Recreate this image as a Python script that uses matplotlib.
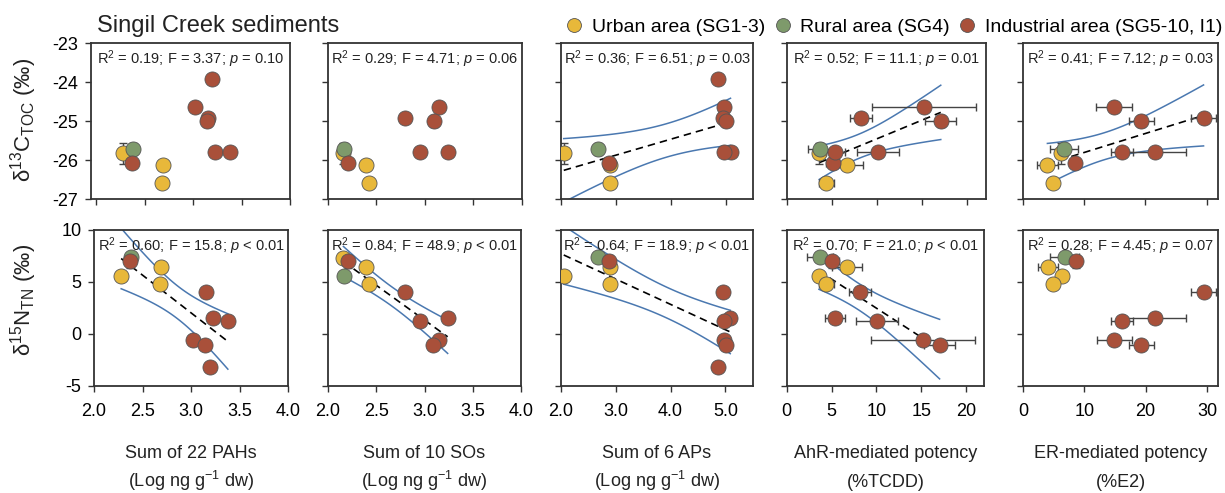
import numpy as np
import matplotlib.pyplot as plt
from matplotlib.lines import Line2D
from matplotlib.ticker import FormatStrFormatter


# %% fonts
plt.rcParams['font.family'] = ['Liberation Sans', 'DejaVu Sans']
plt.rcParams['mathtext.fontset'] = 'custom'
plt.rcParams['mathtext.rm'] = 'Liberation Sans'
plt.rcParams['mathtext.it'] = 'Liberation Sans:italic'
plt.rcParams['mathtext.default'] = 'regular'
plt.rcParams['axes.unicode_minus'] = False


# %% data (sites: SG1-3 urban, SG4 rural, 7 industrial)
site_group = ['urban', 'urban', 'urban', 'rural',
              'industrial', 'industrial', 'industrial', 'industrial',
              'industrial', 'industrial', 'industrial']

# --+ isotopes
d13c = [-25.83, -26.13, -26.59, -25.72, -26.08, -24.64, -24.93, -25.00,
        -23.92, -25.80, -25.80]
d13c_sd = [0.26, 0, 0, 0.15, 0, 0, 0, 0.15, 0, 0, 0]
d15n = [5.60, 6.45, 4.80, 7.37, 6.98, -0.60, 4.05, -1.08, -3.20, 1.55, 1.23]
d15n_sd = [0, 0, 0, 0.3, 0.6, 0, 0, 0, 0, 0, 0]
# --+ as drawn in the SO panel (urban/rural swapped)
d15n_so = [7.35, 6.45, 4.80, 5.58, 6.98, -0.60, 4.05, -1.08, -3.20, 1.55,
           1.23]

# --+ x variables
pahs = [2.28, 2.69, 2.68, 2.38, 2.37, 3.02, 3.15, 3.14, 3.20, 3.23, 3.38]
sos = [2.16, 2.39, 2.42, 2.17, 2.21, 3.15, 2.80, 3.09, np.nan, 3.24, 2.95]
aps = [2.05, 2.89, 2.90, 2.67, 2.88, 4.98, 4.95, 5.01, 4.87, 5.09, 4.97]
ahr = [3.60, 6.70, 4.40, 3.71, 5.08, 15.2, 8.20, 17.05, np.nan, 5.40, 10.09]
ahr_sd = [0.5, 1.7, 0.85, 1.4, 0.7, 5.8, 1.2, 1.7, np.nan, 1.1, 2.35]
er = [6.30, 4.05, 4.97, 6.77, 8.60, 14.9, 29.45, 19.3, np.nan, 21.5, 16.2]
er_sd = [0.5, 1.65, 0.6, 2.3, 0.6, 2.9, 2.05, 2.05, np.nan, 5.1, 1.8]

# --+ statistics shown in the panels
stats_top = ['R$^2$ = 0.19; F = 3.37; $\\mathit{p}$ = 0.10',
             'R$^2$ = 0.29; F = 4.71; $\\mathit{p}$ = 0.06',
             'R$^2$ = 0.36; F = 6.51; $\\mathit{p}$ = 0.03',
             'R$^2$ = 0.52; F = 11.1; $\\mathit{p}$ = 0.01',
             'R$^2$ = 0.41; F = 7.12; $\\mathit{p}$ = 0.03']
stats_bot = ['R$^2$ = 0.60; F = 15.8; $\\mathit{p}$ < 0.01',
             'R$^2$ = 0.84; F = 48.9; $\\mathit{p}$ < 0.01',
             'R$^2$ = 0.64; F = 18.9; $\\mathit{p}$ < 0.01',
             'R$^2$ = 0.70; F = 21.0; $\\mathit{p}$ < 0.01',
             'R$^2$ = 0.28; F = 4.45; $\\mathit{p}$ = 0.07']
fit_top = [False, False, True, True, True]
fit_bot = [True, True, True, True, False]

x_names = ['Sum of 22 PAHs', 'Sum of 10 SOs', 'Sum of 6 APs',
           'AhR-mediated potency', 'ER-mediated potency']
x_units = ['(Log ng g$^{-1}$ dw)', '(Log ng g$^{-1}$ dw)',
           '(Log ng g$^{-1}$ dw)', '(%TCDD)', '(%E2)']
legend_labels = ['Urban area (SG1-3)', 'Rural area (SG4)',
                 'Industrial area (SG5-10, I1)']


# %% styles and layout
colors = {'urban': '#E8B83A', 'rural': '#7E9A6B', 'industrial': '#A9503A'}
blue = '#4A78B0'
dark = '#333333'
t_crit = {8: 2.306, 9: 2.262}

W, H = 1225, 493
left_top = [90.7, 328, 561, 786.7, 1022.5]
right_top = [290, 521.7, 753, 985.5, 1218]
left_bot = [94, 328, 561, 786.7, 1023]
right_bot = [288, 521, 752.7, 984, 1218]

xcols = [pahs, sos, aps, ahr, er]
xerrs = [None, None, None, ahr_sd, er_sd]
xlims_top = [(1.945, 4.0), (2.0, 4.0), (2.0, 5.5), (0, 22), (0, 31.8)]
xlims_bot = [(2.0, 4.0), (2.0, 4.0), (2.0, 5.5), (0, 22), (0, 31.8)]
xticks = [np.arange(2.0, 4.01, 0.5), np.arange(2.0, 4.01, 0.5),
          [2, 3, 4, 5], [0, 5, 10, 15, 20], [0, 10, 20, 30]]
xfmt = ['%.1f', '%.1f', '%.1f', '%d', '%d']


def draw_panel(ax, x, y, xerr, yerr, fit):
    x = np.asarray(x, float)
    y = np.asarray(y, float)
    ok = ~np.isnan(x)
    # --+ regression and 95% confidence band
    if fit:
        xs, ys = x[ok], y[ok]
        n = len(xs)
        b, a = np.polyfit(xs, ys, 1)
        mx = xs.mean()
        sxx = ((xs - mx) ** 2).sum()
        s = np.sqrt(((ys - (a + b * xs)) ** 2).sum() / (n - 2))
        xx = np.linspace(xs.min(), xs.max(), 100)
        hw = t_crit[n - 2] * s * np.sqrt(1 / n + (xx - mx) ** 2 / sxx)
        ax.plot(xx, a + b * xx, color='k', ls=(0, (4.5, 3)), lw=1.2,
                zorder=2)
        ax.plot(xx, a + b * xx + hw, color=blue, lw=1.1, zorder=2)
        ax.plot(xx, a + b * xx - hw, color=blue, lw=1.1, zorder=2)
    # --+ error bars
    if xerr is not None:
        xerr = np.asarray(xerr, float)[ok]
    ax.errorbar(x[ok], y[ok], xerr=xerr, yerr=np.asarray(yerr)[ok],
                fmt='none', ecolor='#444444', elinewidth=1, capsize=3,
                capthick=1, zorder=2.5)
    # --+ points
    grp = np.asarray(site_group)
    for g in ['urban', 'rural', 'industrial']:
        m = ok & (grp == g)
        ax.scatter(x[m], y[m], s=118, color=colors[g], edgecolor='#555555',
                   linewidth=0.6, zorder=3)


def style_axes(ax):
    for sp in ax.spines.values():
        sp.set_color(dark)
        sp.set_linewidth(1.3)
    ax.tick_params(direction='out', length=4, width=1, color=dark,
                   labelsize=13, pad=5)


fig = plt.figure(figsize=(W / 100, H / 100), dpi=100)

for i in range(5):
    # --+ top row: d13C
    ax = fig.add_axes([left_top[i] / W, 1 - 199 / H,
                       (right_top[i] - left_top[i]) / W, 156 / H])
    draw_panel(ax, xcols[i], d13c, xerrs[i], d13c_sd, fit_top[i])
    ax.set_xlim(*xlims_top[i])
    ax.set_ylim(-27, -23)
    ax.set_xticks(xticks[i])
    ax.set_yticks([-27, -26, -25, -24, -23])
    ax.set_xticklabels([])
    if i > 0:
        ax.set_yticklabels([])
    style_axes(ax)
    ax.text(0.5, 0.965, stats_top[i], transform=ax.transAxes, ha='center',
            va='top', fontsize=10.5, color='#222222')

    # --+ bottom row: d15N
    ax = fig.add_axes([left_bot[i] / W, 1 - 386 / H,
                       (right_bot[i] - left_bot[i]) / W, 156 / H])
    yv = d15n_so if i == 1 else d15n
    draw_panel(ax, xcols[i], yv, xerrs[i], d15n_sd, fit_bot[i])
    ax.set_xlim(*xlims_bot[i])
    ax.set_ylim(-5, 10)
    ax.set_xticks(xticks[i])
    ax.xaxis.set_major_formatter(FormatStrFormatter(xfmt[i]))
    ax.set_yticks([-5, 0, 5, 10])
    if i > 0:
        ax.set_yticklabels([])
    style_axes(ax)
    ax.tick_params(axis='x', pad=8)
    ax.text(0.5, 0.965, stats_bot[i], transform=ax.transAxes, ha='center',
            va='top', fontsize=10.5, color='#222222')

    # --+ two-line axis title below the column
    xc = (left_bot[i] + right_bot[i]) / 2 / W
    fig.text(xc, 1 - 458 / H, x_names[i], ha='center', va='baseline',
             fontsize=13, color='#222222')
    fig.text(xc, 1 - 487 / H, x_units[i], ha='center', va='baseline',
             fontsize=13, color='#222222')

# --+ axis titles
fig.text(24 / W, 1 - 120 / H, 'δ$^{13}$C$_{TOC}$ (‰)', rotation=90,
         ha='center', va='center', fontsize=16, color='#222222')
fig.text(24 / W, 1 - 300 / H, 'δ$^{15}$N$_{TN}$ (‰)', rotation=90,
         ha='center', va='center', fontsize=16, color='#222222')
fig.text(97 / W, 1 - 32 / H, 'Singil Creek sediments', fontsize=17,
         va='baseline', color='#222222')

# --+ legend
handles = [Line2D([], [], ls='none', marker='o', markersize=10,
                  markerfacecolor=colors[g], markeredgecolor='#555555',
                  markeredgewidth=0.6)
           for g in ['urban', 'rural', 'industrial']]
fig.legend(handles, legend_labels, loc='center right', ncol=3,
           bbox_to_anchor=(1222 / W, 1 - 27 / H), frameon=False,
           fontsize=14, handlelength=0.8, handletextpad=0.5,
           columnspacing=0.5, borderpad=0, borderaxespad=0)

plt.savefig('out.png', dpi=100)
